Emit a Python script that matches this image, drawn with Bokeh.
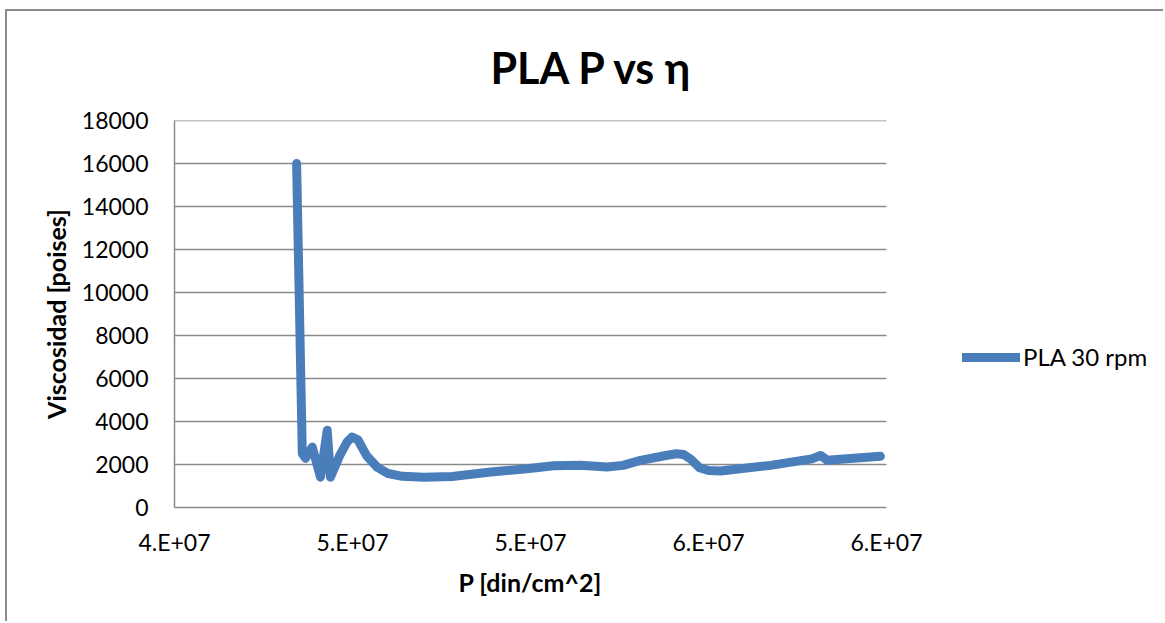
from bokeh.plotting import figure
from bokeh.models import FixedTicker, Range1d, Legend, LegendItem, Title
from bokeh.embed import file_html
from bokeh.resources import INLINE

# Pressure [din/cm^2] and viscosity [poises] for PLA at 30 rpm
pressure = [4.343e7, 4.359e7, 4.368e7, 4.387e7, 4.410e7, 4.429e7, 4.438e7,
            4.465e7, 4.485e7, 4.499e7, 4.515e7, 4.540e7, 4.569e7, 4.600e7,
            4.640e7, 4.700e7, 4.780e7, 4.888e7, 4.990e7, 5.065e7, 5.140e7,
            5.215e7, 5.260e7, 5.309e7, 5.380e7, 5.410e7, 5.430e7, 5.450e7,
            5.475e7, 5.500e7, 5.534e7, 5.674e7, 5.790e7, 5.815e7, 5.833e7,
            5.983e7]
viscosity = [16000, 2500, 2290, 2810, 1410, 3590, 1410,
             2450, 3050, 3280, 3150, 2400, 1880, 1580,
             1450, 1410, 1440, 1650, 1800, 1940, 1960,
             1880, 1960, 2190, 2420, 2500, 2470, 2250,
             1850, 1720, 1700, 1960, 2260, 2420, 2200,
             2380]

x_ticks = [4.0e7, 4.5e7, 5.0e7, 5.5e7, 6.0e7]
x_tick_labels = ["4.E+07", "5.E+07", "5.E+07", "6.E+07", "6.E+07"]
y_ticks = list(range(0, 18001, 2000))

FONT = "Lato"
GRID = "#8a8a8a"
BLUE = "#4a7ebb"

# canvas geometry: the plotting frame runs to the right edge so the legend
# can sit beside the axes; the axis and gridlines stop at the last tick
W, H = 1158, 612
BL, BT, BB = 167, 109, 116
AXIS_PX = 712                      # pixel length of the x axis
frame_w = W - BL
x_start, x_end = x_ticks[0], x_ticks[-1]
x_view_end = x_start + (x_end - x_start) * frame_w / AXIS_PX

p = figure(width=W, height=H, output_backend="svg", toolbar_location=None,
           x_range=Range1d(x_start, x_view_end), y_range=Range1d(0, 18000),
           min_border_left=BL, min_border_right=0,
           min_border_top=BT, min_border_bottom=BB)
p.margin = (9, 0, 0, 5)
p.styles = {"border-left": "2px solid #8c8c8c", "border-top": "2px solid #8c8c8c"}
p.outline_line_color = None
p.background_fill_color = "white"
p.border_fill_color = "white"

# title
p.title = Title(text="PLA P vs η", align="left", text_font=FONT,
                text_font_size="43px", text_font_style="bold", text_color="black")
p.title.offset = 316
p.title.standoff = 56

# axes
p.xaxis.ticker = FixedTicker(ticks=x_ticks)
p.xaxis.major_label_overrides = {t: lab for t, lab in zip(x_ticks, x_tick_labels)}
p.xaxis.bounds = (x_start, x_end)
p.yaxis.ticker = FixedTicker(ticks=y_ticks)
for ax in (p.xaxis, p.yaxis):
    ax.axis_line_color = GRID
    ax.axis_line_width = 1.5
    ax.major_tick_line_color = None
    ax.minor_tick_line_color = None
    ax.major_label_text_font = FONT
    ax.major_label_text_font_size = "23px"
    ax.major_label_text_color = "black"
    ax.axis_label_text_font = FONT
    ax.axis_label_text_font_size = "25px"
    ax.axis_label_text_font_style = "bold"
    ax.axis_label_text_color = "black"
    ax.major_label_standoff = 14
p.yaxis.axis_label = "Viscosidad [poises]"
p.yaxis.major_label_standoff = 20
p.yaxis.axis_label_standoff = 8

# x axis title, centred under the axis rather than the whole frame
p.add_layout(Title(text="P [din/cm^2]", align="left", offset=284,
                   text_font=FONT, text_font_size="25px",
                   text_font_style="bold", text_color="black",
                   standoff=13), "below")

# horizontal gridlines, limited to the x axis extent
p.xgrid.grid_line_color = None
p.ygrid.grid_line_color = None
grid_y = y_ticks[1:]
p.segment(x0=[x_start] * len(grid_y), x1=[x_end] * len(grid_y),
          y0=grid_y, y1=grid_y, line_color=GRID, line_width=1.5)

r = p.line(pressure, viscosity, line_color=BLUE, line_width=9,
           line_join="round", line_cap="round")

legend = Legend(items=[LegendItem(label="PLA 30 rpm", renderers=[r])],
                location=(788, 136), padding=0, margin=0, spacing=0,
                glyph_width=58, glyph_height=20, label_standoff=3,
                label_text_font=FONT, label_text_font_size="24px",
                label_text_color="black",
                border_line_color=None, background_fill_alpha=0)
p.add_layout(legend, "center")

open("out.html", "w").write(file_html(p, INLINE))
